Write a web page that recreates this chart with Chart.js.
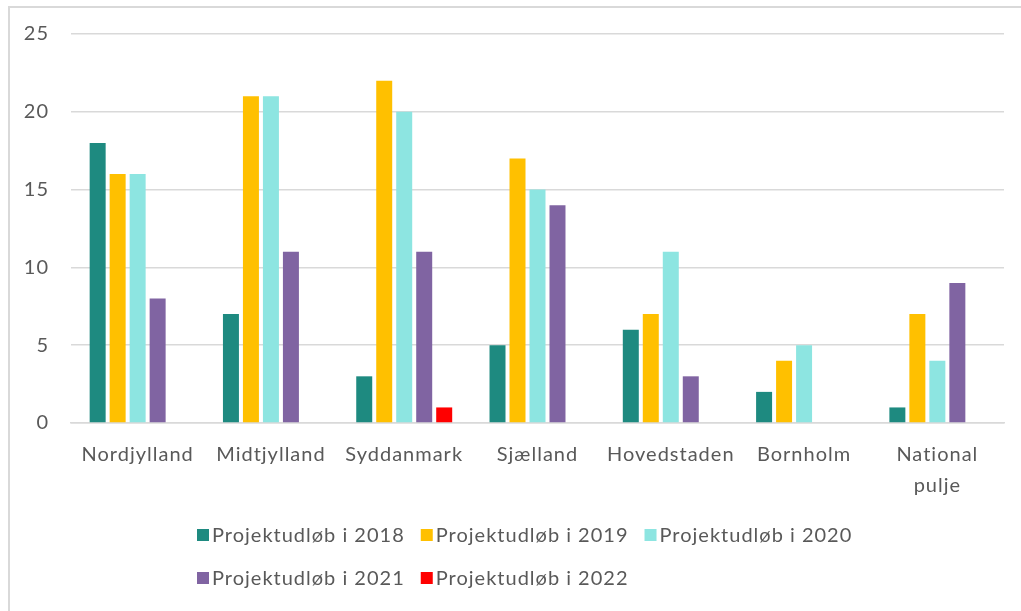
<!DOCTYPE html>
<html>
<head>
<meta charset="utf-8">
<script src="https://cdn.jsdelivr.net/npm/chart.js@4/dist/chart.umd.min.js"></script>
<style>
  html, body { margin: 0; padding: 0; background: #fff; }
  #wrap { position: relative; width: 1021px; height: 611px; overflow: hidden; }
  #frame { position: absolute; left: 8px; top: 6px; width: 1100px; height: 700px;
           border-top: 2px solid #d9d9d9; border-left: 2px solid #d9d9d9; box-sizing: border-box; }
  canvas { position: absolute; left: 0; top: 0; }
</style>
</head>
<body>
<div id="wrap">
  <div id="frame"></div>
  <canvas id="c" width="1021" height="611"></canvas>
</div>
<script>
const categories = ['Nordjylland', 'Midtjylland', 'Syddanmark', 'Sjælland', 'Hovedstaden', 'Bornholm', ['National', 'pulje']];
const seriesNames = ['Projektudløb i 2018', 'Projektudløb i 2019', 'Projektudløb i 2020', 'Projektudløb i 2021', 'Projektudløb i 2022'];
const values2018 = [18, 7, 3, 5, 6, 2, 1];
const values2019 = [16, 21, 22, 17, 7, 4, 7];
const values2020 = [16, 21, 20, 15, 11, 5, 4];
const values2021 = [8, 11, 11, 14, 3, 0, 9];
const values2022 = [0, 0, 1, 0, 0, 0, 0];
const yTicks = [0, 5, 10, 15, 20, 25];
const colors = ['#1E8A80', '#FFC000', '#8DE5E1', '#8064A2', '#FF0000'];

const allValues = [values2018, values2019, values2020, values2021, values2022];
const FONT = 'Lato, "Open Sans", sans-serif';
const TEXT = '#595959';
const SPACING = '1px';

const spacingPlugin = {
  id: 'spacing',
  beforeLayout(chart) { chart.ctx.letterSpacing = SPACING; },
  beforeDraw(chart) { chart.ctx.letterSpacing = SPACING; }
};

const legendPlugin = {
  id: 'excelLegend',
  afterDraw(chart) {
    const ctx = chart.ctx;
    ctx.save();
    ctx.letterSpacing = SPACING;
    ctx.font = '20px ' + FONT;
    ctx.textBaseline = 'middle';
    const box = 12, gapText = 3, gapItem = 16, perRow = 3;
    const items = chart.data.datasets.map(d => ({ label: d.label, color: d.backgroundColor, w: box + gapText + ctx.measureText(d.label).width }));
    let row1 = 0;
    for (let i = 0; i < Math.min(perRow, items.length); i++) row1 += items[i].w + (i ? gapItem : 0);
    const startX = Math.round(525 - row1 / 2);
    const rowY = [535, 578];
    items.forEach((it, i) => {
      const r = Math.floor(i / perRow);
      let x = startX;
      for (let j = r * perRow; j < i; j++) x += items[j].w + gapItem;
      const y = rowY[r];
      ctx.fillStyle = it.color;
      ctx.fillRect(x, y - box / 2, box, box);
      ctx.fillStyle = TEXT;
      ctx.fillText(it.label, x + box + gapText, y + 1);
    });
    ctx.restore();
  }
};

new Chart(document.getElementById('c'), {
  type: 'bar',
  data: {
    labels: categories,
    datasets: seriesNames.map((n, i) => ({
      label: n,
      data: allValues[i],
      backgroundColor: colors[i],
      borderWidth: 0,
      categoryPercentage: 0.75,
      barPercentage: 0.8
    }))
  },
  options: {
    responsive: false,
    animation: false,
    layout: { padding: { left: 8, right: 17, top: 34, bottom: 108 } },
    plugins: { legend: { display: false }, tooltip: { enabled: false } },
    scales: {
      x: {
        grid: { display: false, drawTicks: false },
        border: { display: true, color: '#d9d9d9', width: 1.5 },
        ticks: { color: TEXT, font: { family: FONT, size: 20, lineHeight: 1.55 }, padding: 16, maxRotation: 0, autoSkip: false },
        afterFit(s) { s.height = 80; }
      },
      y: {
        min: 0, max: 25,
        afterBuildTicks(s) { s.ticks = yTicks.map(v => ({ value: v })); },
        grid: { color: '#d9d9d9', lineWidth: 1.5, drawTicks: false },
        border: { display: false },
        ticks: { color: TEXT, font: { family: FONT, size: 20 }, padding: 22 },
        afterFit(s) { s.width = 63; }
      }
    }
  },
  plugins: [spacingPlugin, legendPlugin]
});
</script>
</body>
</html>
